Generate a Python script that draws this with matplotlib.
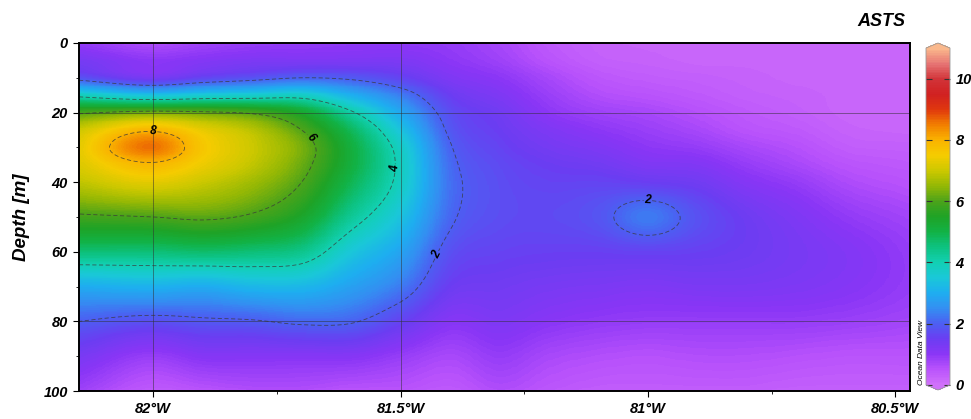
import numpy as np
import matplotlib
matplotlib.use("Agg")
import matplotlib.pyplot as plt
from matplotlib.colors import LinearSegmentedColormap, Normalize

plt.rcParams['font.family'] = ['Liberation Sans', 'DejaVu Sans']

# ---- section data: ASTS profiles along the transect ----
depths = [0, 5, 10, 15, 20, 25, 30, 35, 40, 50, 60, 70, 80, 90, 100]
lons = [-82.15, -82.0, -81.9, -81.8, -81.7, -81.6, -81.5, -81.4, -81.3,
        -81.2, -81.1, -81.0, -80.9, -80.8, -80.7, -80.6, -80.47]

w8215 = [0.9, 1.3, 1.8, 3.8, 5.9, 7.0, 7.3, 7.2, 6.9, 5.9, 4.6, 3.0, 2.0, 1.3, 0.8]
w8200 = [0.6, 1.0, 1.3, 3.3, 6.2, 7.9, 8.6, 7.9, 7.3, 6.0, 4.6, 3.1, 1.8, 0.9, 0.4]
w8190 = [0.75, 1.1, 1.6, 3.5, 6.1, 7.3, 7.6, 7.4, 7.0, 6.1, 4.7, 3.0, 1.9, 1.1, 0.5]
w8180 = [0.85, 1.2, 1.8, 3.6, 5.9, 6.8, 7.0, 6.9, 6.6, 5.9, 4.6, 3.2, 1.95, 1.1, 0.6]
w8170 = [0.9, 1.2, 2.0, 3.7, 5.3, 6.0, 6.3, 6.2, 6.0, 5.4, 4.4, 3.2, 2.1, 1.1, 0.6]
w8160 = [0.95, 1.2, 1.9, 3.0, 4.1, 4.8, 5.1, 5.1, 4.9, 4.3, 3.5, 2.8, 2.05, 1.1, 0.5]
w8150 = [0.95, 1.2, 1.6, 2.3, 2.9, 3.4, 3.75, 3.85, 3.8, 3.4, 2.85, 2.3, 1.6, 0.9, 0.5]
w8140 = [0.9, 1.0, 1.2, 1.5, 1.75, 1.9, 2.05, 2.15, 2.2, 2.1, 1.8, 1.5, 1.1, 0.7, 0.4]
w8130 = [0.7, 0.8, 1.0, 1.2, 1.4, 1.5, 1.6, 1.7, 1.75, 1.75, 1.6, 1.4, 1.2, 0.9, 0.6]
w8120 = [0.4, 0.5, 0.7, 0.85, 1.0, 1.2, 1.35, 1.5, 1.6, 1.7, 1.55, 1.3, 1.05, 0.7, 0.45]
w8110 = [0.25, 0.3, 0.45, 0.6, 0.8, 1.0, 1.2, 1.4, 1.6, 1.85, 1.55, 1.25, 0.95, 0.6, 0.35]
w8100 = [0.2, 0.25, 0.35, 0.5, 0.7, 0.85, 1.0, 1.2, 1.5, 2.3, 1.6, 1.2, 0.9, 0.55, 0.35]
w8090 = [0.2, 0.2, 0.3, 0.4, 0.55, 0.7, 0.9, 1.15, 1.4, 1.8, 1.55, 1.25, 0.9, 0.6, 0.35]
w8080 = [0.2, 0.2, 0.25, 0.3, 0.4, 0.5, 0.7, 0.9, 1.1, 1.45, 1.45, 1.25, 0.9, 0.6, 0.35]
w8070 = [0.2, 0.2, 0.2, 0.25, 0.3, 0.4, 0.55, 0.7, 0.9, 1.2, 1.3, 1.2, 0.9, 0.55, 0.3]
w8060 = [0.2, 0.2, 0.2, 0.2, 0.2, 0.25, 0.35, 0.5, 0.65, 0.95, 1.15, 1.1, 0.85, 0.5, 0.3]
w8047 = [0.2, 0.2, 0.2, 0.2, 0.2, 0.2, 0.3, 0.4, 0.5, 0.75, 0.9, 0.9, 0.75, 0.5, 0.3]

profiles = [w8215, w8200, w8190, w8180, w8170, w8160, w8150, w8140, w8130,
            w8120, w8110, w8100, w8090, w8080, w8070, w8060, w8047]

contour_levels = [2, 4, 6, 8]
x_ticks = [-82.0, -81.5, -81.0, -80.5]
x_ticklabels = ['82°W', '81.5°W', '81°W', '80.5°W']
y_ticks = [0, 20, 40, 60, 80, 100]
cbar_ticks = [0, 2, 4, 6, 8, 10]


def hermite(x, y, xn, axis):
    """Cubic Hermite interpolation of y along one axis (non-uniform x)."""
    x = np.asarray(x, float)
    y = np.moveaxis(np.asarray(y, float), axis, 0)
    m = np.gradient(y, x, axis=0)
    i = np.clip(np.searchsorted(x, xn) - 1, 0, len(x) - 2)
    h = (x[i + 1] - x[i])
    t = (xn - x[i]) / h
    shp = (-1,) + (1,) * (y.ndim - 1)
    t = t.reshape(shp)
    h = h.reshape(shp)
    h00 = 2 * t**3 - 3 * t**2 + 1
    h10 = t**3 - 2 * t**2 + t
    h01 = -2 * t**3 + 3 * t**2
    h11 = t**3 - t**2
    out = h00 * y[i] + h10 * h * m[i] + h01 * y[i + 1] + h11 * h * m[i + 1]
    return np.moveaxis(out, 0, axis)


grid = np.array(profiles).T           # (depth, lon)
lon_f = np.linspace(lons[0], lons[-1], 700)
dep_f = np.linspace(0, 100, 400)
field = hermite(depths, grid, dep_f, axis=0)
field = hermite(lons, field, lon_f, axis=1)

# ODV-like rainbow palette
stops = [
    (0.0, '#d070fa'), (0.5, '#b852fc'), (1.0, '#8a36f6'), (1.5, '#6a3ef2'),
    (2.0, '#4c60f2'), (2.5, '#3390f2'), (3.0, '#1eaef0'), (3.5, '#1ac8d8'),
    (4.0, '#12d0b2'), (4.5, '#0dc280'), (5.0, '#12b245'), (5.5, '#1fa326'),
    (6.0, '#4ca31a'), (6.5, '#94b805'), (7.0, '#ccc800'), (7.5, '#f5cc00'),
    (8.0, '#fab300'), (8.5, '#f28000'), (9.0, '#e0380d'), (9.5, '#d12121'),
    (10.0, '#d13338'), (10.5, '#e67373'), (11.0, '#fab88c'),
]
vmax = 11.0
cmap = LinearSegmentedColormap.from_list('odv', [(v / vmax, c) for v, c in stops],
                                         N=200)
cmap.set_under(stops[0][1])
cmap.set_over(stops[-1][1])
norm = Normalize(vmin=0, vmax=vmax)

fig = plt.figure(figsize=(9.71, 4.19), dpi=100)
ax = fig.add_axes([79 / 971, 28 / 419, 831 / 971, 348 / 419])

ax.imshow(field, extent=[lon_f[0], lon_f[-1], 100, 0], origin='upper',
          aspect='auto', cmap=cmap, norm=norm, interpolation='nearest')

LON, DEP = np.meshgrid(lon_f, dep_f)
cs = ax.contour(LON, DEP, field, levels=contour_levels, colors='#3a3a3a',
                linewidths=0.6, alpha=0.8)
cs.set_dashes([(0, (5, 3))])
labels = ax.clabel(cs, fmt='%d', fontsize=8.5, inline=True, inline_spacing=1,
                   manual=[(-82.0, 24.5), (-81.68, 27), (-81.52, 36),
                           (-81.41, 62), (-81.0, 45.5)])
for t in labels:
    t.set_fontweight('bold')
    t.set_fontstyle('italic')
    t.set_color('black')

# section grid lines
for d in (20, 80):
    ax.axhline(d, color='#303030', lw=0.6, alpha=0.6)
for lo in (-82.0, -81.5):
    ax.axvline(lo, color='#303030', lw=0.6, alpha=0.6)

ax.set_xlim(lons[0], lons[-1])
ax.set_ylim(100, 0)
ax.set_xticks(x_ticks)
ax.set_xticklabels(x_ticklabels)
ax.set_xticks([-81.75, -81.25, -80.75], minor=True)
ax.set_yticks(y_ticks)
ax.set_yticks([10, 30, 50, 70, 90], minor=True)
ax.tick_params(axis='both', which='major', direction='out', length=4,
               width=0.8, labelsize=10.5, pad=4)
ax.tick_params(axis='both', which='minor', direction='out', length=2.5,
               width=0.6)
for lab in ax.get_xticklabels() + ax.get_yticklabels():
    lab.set_fontweight('bold')
    lab.set_fontstyle('italic')
for sp in ax.spines.values():
    sp.set_linewidth(1.4)
ax.set_ylabel('Depth [m]', fontsize=13.5, fontweight='bold', fontstyle='italic',
              labelpad=10)

# colour bar
cax = fig.add_axes([926 / 971, 29 / 419, 24 / 971, 347 / 419])
sm = plt.cm.ScalarMappable(norm=norm, cmap=cmap)
cb = fig.colorbar(sm, cax=cax, extend='both', extendfrac=0.015, ticks=cbar_ticks)
cb.outline.set_edgecolor('#999999')
cb.outline.set_linewidth(0.6)
cax.tick_params(direction='in', length=4, width=0.8, left=True, right=True,
                labelsize=10.5, pad=4, color='#333333')
for lab in cax.get_yticklabels():
    lab.set_fontweight('bold')
    lab.set_fontstyle('italic')

fig.text(905 / 971, 1 - 22 / 419, 'ASTS', ha='right', va='center',
         fontsize=13, fontweight='bold', fontstyle='italic')
fig.text(921 / 971, 1 - 352 / 419, 'Ocean Data View', rotation=90,
         ha='center', va='center', fontsize=6, fontstyle='italic')

fig.savefig('out.png', dpi=100)
